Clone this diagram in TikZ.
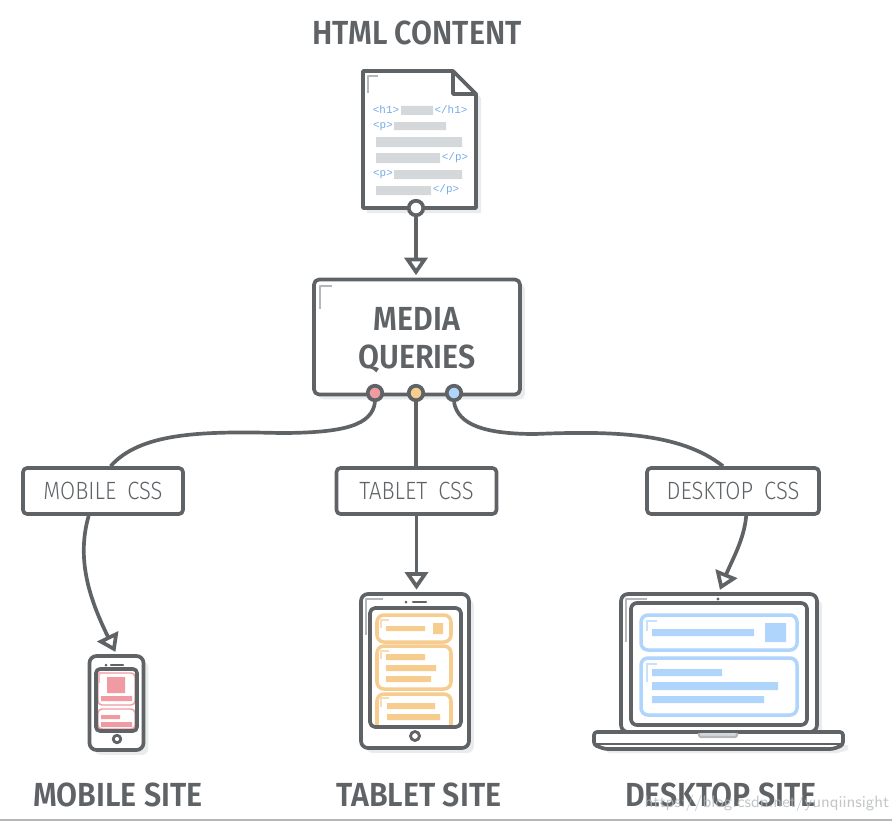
\documentclass[tikz,border=0pt]{standalone}
\usepackage{fontspec}
\usepackage{xcolor}
\usetikzlibrary{arrows.meta,shadows}
\newfontfamily\headfont[FakeStretch=0.91]{Fira Sans SemiBold}
\newfontfamily\cssfont[FakeStretch=0.88,WordSpace=1.8]{Fira Sans Light}
\newfontfamily\tagfont{Liberation Mono}
\definecolor{ink}{HTML}{5F6366}
\definecolor{softgrey}{HTML}{D5D8DA}
\definecolor{glintgrey}{HTML}{B4B8BA}
\definecolor{shadowgrey}{HTML}{E9EBEC}
\definecolor{tagblue}{HTML}{74ABE8}
\definecolor{redc}{HTML}{F09AA1}
\definecolor{orangec}{HTML}{F6CD8E}
\definecolor{bluec}{HTML}{AFD5FC}
\tikzset{
heading/.style={font=\headfont\fontsize{19}{21.6}\selectfont,text=ink,align=center,inner sep=0pt},
cssbox/.style={draw=ink,fill=white,rounded corners=.08cm,minimum width=3.2cm,minimum height=.92cm,inner sep=0pt,font=\cssfont\fontsize{14.2}{16}\selectfont,text=ink},
device/.style={draw=ink,fill=white,rounded corners=.14cm,inner sep=0pt,drop shadow={shadow xshift=.1cm,shadow yshift=-.1cm,fill=shadowgrey,opacity=1}},
portdot/.style={circle,draw=ink,inner sep=0pt,minimum size=.29cm},
tag/.style={font=\tagfont\fontsize{6.2}{7}\selectfont,text=tagblue,inner sep=0pt},
glint/.style={draw=glintgrey,line width=.8pt},
link/.style={draw=ink,-{Triangle[open,fill=white,length=.35cm,width=.46cm]},shorten >=.05cm}
}
\begin{document}
\begin{tikzpicture}[x=.02cm,y=-.02cm,line width=2.1pt,line join=round]
\useasboundingbox (0,0) rectangle (892,821);
\draw[glintgrey,line width=1pt](0,820)--(892,820);
% titles
\node[heading](htmltitle) at (417,33){HTML CONTENT};
\node[heading](mobiletitle) at (118,795){MOBILE SITE};
\node[heading](tablettitle) at (419,795){TABLET SITE};
\node[heading](desktoptitle) at (721,795){DESKTOP SITE};
% html page
\fill[shadowgrey](367,75)--(457,75)--(481,98)--(481,213)--(367,213)--cycle;
\draw[ink,fill=white](363,71)--(453,71)--(476,94)--(476,208)--(363,208)--cycle;
\draw[ink](453,71)--(453,94)--(476,94);
\draw[glint](368,93)--(368,76)--(378,76);
\fill[softgrey](401,106)rectangle(433,115)(394,122)rectangle(446,130)(376,137)rectangle(462,147)
(376,153)rectangle(440,163)(394,170)rectangle(462,179)(376,186)rectangle(431,195);
\node[tag](tagh) at (386,110){<h1>};
\node[tag](tagha) at (451,110){</h1>};
\node[tag](tagp) at (383,126){<p>};
\node[tag](tagpa) at (455,158){</p>};
\node[tag](tagq) at (383,174){<p>};
\node[tag](tagqa) at (446,190){</p>};
\node[portdot,fill=white](docport) at (416,208){};
% media queries
\node[device,minimum width=4.12cm,minimum height=2.3cm,rounded corners=.1cm,drop shadow={shadow xshift=.07cm,shadow yshift=-.07cm,fill=shadowgrey,opacity=1},label={[heading,yshift=-.06cm]center:MEDIA\\QUERIES}](media) at (417,337){};
\draw[glint](320,309)--(320,286)--(332,286);
\node[portdot,fill=redc](portr) at (375,393){};
\node[portdot,fill=orangec](porto) at (416,393){};
\node[portdot,fill=bluec](portb) at (454,393){};
\node[cssbox](mobilecss) at (103,491){MOBILE CSS};
\node[cssbox](tabletcss) at (416.5,491){TABLET CSS};
\node[cssbox,minimum width=3.44cm](desktopcss) at (733,491){DESKTOP CSS};
% phone
\node[device,minimum width=1.08cm,minimum height=1.88cm](phone) at (116.5,703){};
\fill[redc](107,677)rectangle(125,693)(101,696)rectangle(132,701)(101,715)rectangle(120,719)(101,722)rectangle(132,727);
\draw[redc,line width=.8pt,rounded corners=.08cm](98,673)rectangle(135,705)(98,709)rectangle(135,729);
\draw[redc!70,line width=.8pt](99,683)--(99,673)--(107,673);
\node[draw=ink,rounded corners=.08cm,minimum width=.82cm,minimum height=1.24cm,inner sep=0pt](phonescreen) at (116.5,700){};
\node[circle,draw=ink,line width=1.6pt,inner sep=0pt,minimum size=.15cm](phonebtn) at (117,739){};
\fill[ink](106,665)circle(1.5);
\draw[ink,line width=1.2pt,line cap=round](111,665)--(123,665);
% tablet
\node[device,minimum width=2.16cm,minimum height=3.08cm](tablet) at (415,671){};
\draw[glint](366,635)--(366,599)--(383,599);
\begin{scope}[orangec,line width=2pt,rounded corners=.14cm]
\draw(377,615)rectangle(451,642)(377,646)rectangle(451,689);
\draw(377,726)--(377,694)--(451,694)--(451,726);
\end{scope}
\fill[orangec](386,626)rectangle(425,631)(433,623)rectangle(443,634)(386,654)rectangle(425,660)(386,665)rectangle(436,671)
(386,676)rectangle(431,682)(387,703)rectangle(435,709)(387,714)rectangle(440,720);
\draw[orangec!70,line width=.8pt](381,628)--(381,620)--(389,620)(381,659)--(381,651)--(389,651)(381,707)--(381,698)--(389,698);
\node[draw=ink,rounded corners=.1cm,minimum width=1.82cm,minimum height=2.38cm,inner sep=0pt](tabletscreen) at (415.5,667.5){};
\node[circle,draw=ink,line width=1.6pt,inner sep=0pt,minimum size=.18cm](tabletbtn) at (415,736){};
\fill[ink](406,602)circle(1.5);
\draw[ink,line width=1.2pt,line cap=round](413,602)--(426,602);
% laptop
\node[device,minimum width=3.92cm,minimum height=2.76cm](laptop) at (719,663){};
\fill[shadowgrey](598,745)--(848,745)--(848,750)--(838,753)--(609,753)--cycle;
\draw[ink,fill=white,rounded corners=.06cm](594,732)--(843,732)--(843,745)--(833,749)--(605,749)--(594,745)--cycle;
\draw[ink,line width=1.2pt](596,744)--(841,744);
\draw[glintgrey,fill=softgrey,line width=1.2pt,rounded corners=.04cm](699,733)--(699,737)--(737,737)--(737,733);
\draw[glint](626,642)--(626,599)--(647,599);
\fill[ink](718,599)circle(1.7);
\node[draw=ink,fill=white,rounded corners=.12cm,minimum width=3.52cm,minimum height=2.44cm,inner sep=0pt](laptopscreen) at (719,664){};
\draw[bluec,line width=2pt,rounded corners=.14cm](641,615)rectangle(797,650)(641,658)rectangle(797,715);
\fill[bluec](652,629)rectangle(754,636)(765,623)rectangle(786,642)(652,669)rectangle(722,676)(652,682)rectangle(778,690)(652,696)rectangle(764,703);
\draw[bluec!70,line width=.8pt](647,631)--(647,621)--(657,621)(647,682)--(647,664)--(657,664);
% connectors
\draw[link](docport.south)--(docport.south|-media.north);
\draw[ink](portr.south)..controls(372,425)and(345,433)..(280,433)..controls(200,431)and(140,433)..(mobilecss.73);
\draw[ink](porto.south)--(porto.south|-tabletcss.north);
\draw[ink](portb.south)..controls(458,425)and(485,434)..(535,434)..controls(610,431)and(680,432)..(desktopcss.112);
\draw[link](tabletcss.south)--(tabletcss.south|-tablet.north);
\draw[link](mobilecss.-120)..controls(76,560)and(90,600)..(phone.north);
\draw[link](desktopcss.-62)..controls(744,540)and(732,560)..(laptop.north);
% watermark
\node[font=\sffamily\fontsize{9.4}{11}\selectfont,text=glintgrey,inner sep=0pt,opacity=.8](watermark) at (767,803){https://blog.csdn.net/yunqiinsight};
\end{tikzpicture}
\end{document}
